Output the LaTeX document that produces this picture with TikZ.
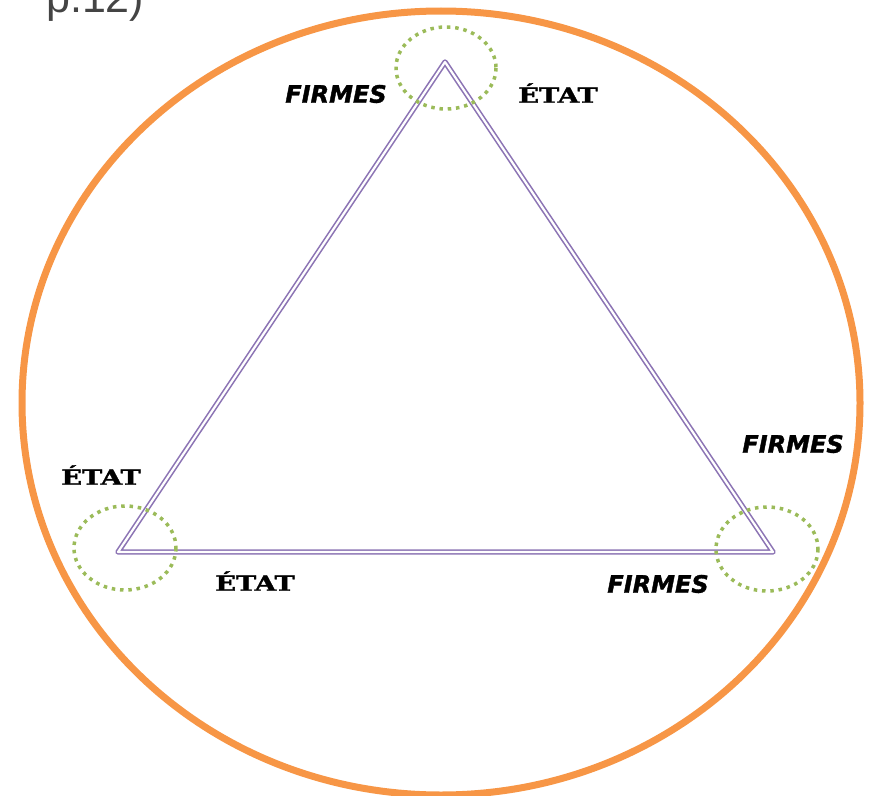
\documentclass[tikz,border=0pt]{standalone}
\usepackage{fontspec}
\setmainfont{Liberation Serif}
\newfontfamily\firmfont[FakeBold=1.5]{DejaVu Sans}
\newfontfamily\etatfont[FakeBold=1.5]{DejaVu Serif}
\newfontfamily\topfont{Liberation Sans}
\definecolor{orangeC}{HTML}{F79646}
\definecolor{purpleC}{HTML}{8C74B4}
\definecolor{greenC}{HTML}{9BBB59}
\definecolor{grayT}{HTML}{444444}
\begin{document}
\begin{tikzpicture}[x=1bp,y=-1bp,
  firmlbl/.style={font=\firmfont\bfseries\itshape\fontsize{24bp}{26bp}\selectfont, inner sep=0pt},
  etatlbl/.style={font=\etatfont\bfseries\fontsize{21bp}{23bp}\selectfont, inner sep=0pt, xscale=1.3},
  dotring/.style={draw=greenC, line width=3.5bp, dash pattern=on 3.5bp off 4.8bp},
  tri/.style={draw=purpleC, line width=1.6bp, double=white, double distance=2.2bp, line join=round}]
\useasboundingbox (0,0) rectangle (873,796);
\clip (0,0) rectangle (873,796);
% top cut text
\node[anchor=base west, inner sep=0pt, text=grayT, font=\topfont\fontsize{43bp}{45bp}\selectfont] (ref) at (46,13) {p.12)};
% outer orange ellipse
\draw[orangeC, line width=7bp] (441,403) ellipse [x radius=419, y radius=392];
% triangle
\coordinate (A) at (445,62);
\coordinate (B) at (118,552);
\coordinate (C) at (773,552);
\draw[tri] (A) -- (B) -- (C) -- cycle;
% dotted rings
\draw[dotring] (446,68) ellipse [x radius=50, y radius=41];
\draw[dotring] (125,548) ellipse [x radius=51, y radius=42];
\draw[dotring] (767,549) ellipse [x radius=51, y radius=42];
% labels
\node[firmlbl] (f1) at (336,94) {FIRMES};
\node[etatlbl] (e1) at (558,93) {ÉTAT};
\node[etatlbl] (e2) at (101,475) {ÉTAT};
\node[etatlbl] (e3) at (255,581) {ÉTAT};
\node[firmlbl] (f2) at (793,444) {FIRMES};
\node[firmlbl] (f3) at (658,584) {FIRMES};
\end{tikzpicture}
\end{document}
